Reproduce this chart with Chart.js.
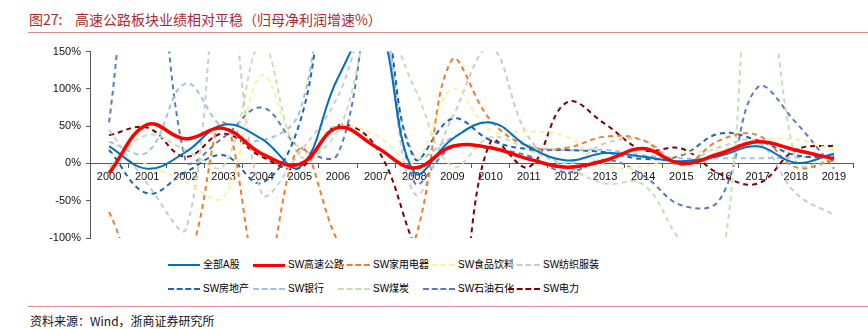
<!DOCTYPE html>
<html>
<head>
<meta charset="utf-8">
<script src="https://cdn.jsdelivr.net/npm/chart.js@4.4.1/dist/chart.umd.min.js"></script>
<style>
  body { margin: 0; background: #fff; }
  #wrap { position: relative; width: 868px; height: 329px; overflow: hidden; font-family: "Liberation Sans", "Noto Sans CJK SC", sans-serif; }
  #title { position: absolute; left: 29px; top: 9px; font-size: 14px; color: #B0282C; font-family: "Noto Sans CJK SC", sans-serif; white-space: pre; }
  .rule { position: absolute; left: 28px; right: 0; height: 1px; background: #DC8C8C; }
  #chart { position: absolute; left: 0; top: 40px; }
  #legend { position: absolute; left: 168px; top: 257px; width: 440px; }
  .item { position: absolute; height: 16px; font-size: 10px; color: #000; line-height: 16px; white-space: nowrap; }
  .item span.ln { display: inline-block; width: 32px; vertical-align: middle; margin-right: 3px; }
  #source { position: absolute; left: 30px; top: 312px; font-size: 12px; color: #111; font-family: "Noto Sans CJK SC", sans-serif; }
</style>
</head>
<body>
<div id="wrap">
  <div id="title">图27:    高速公路板块业绩相对平稳（归母净利润增速%）</div>
  <div class="rule" style="top:32px"></div>
  <canvas id="chart" width="868" height="210"></canvas>
  <div id="legend"></div>
  <div class="rule" style="top:306px"></div>
  <div id="source">资料来源：Wind，浙商证券研究所</div>
</div>
<script>
// 年份
const years = ['2000', '2001', '2002', '2003', '2004', '2005', '2006', '2007', '2008', '2009',
               '2010', '2011', '2012', '2013', '2014', '2015', '2016', '2017', '2018', '2019'];
const yTicks = [-100, -50, 0, 50, 100, 150];

// 归母净利润增速 (%)
const allA      = [23, -7, 15, 52, 33, -5, 115, 190, -12, 33, 55, 22, 4, 14, 9, 3, 10, 23, 1, 13];
const highway   = [-13, 52, 33, 47, 13, -1, 48, 22, -6, 23, 21, 6, -5, 4, 20, 0, 13, 29, 18, 6];
const appliance = [-65, -170, -140, 55, -160, 20, -105, -180, -105, 140, 58, 23, 21, 36, 31, -2, 31, 38, -5, 4];
const food      = [13, -2, -25, -45, 118, 22, 50, 38, 2, 100, 44, 43, 36, -2, -4, 13, 18, 31, 32, 18];
const textile   = [45, -27, -90, 280, -40, 15, 90, 220, -40, 62, 155, 35, 0, 27, 31, 2, 22, 29, -40, -69];
const realty    = [18, -40, -12, 11, -26, 55, 300, 250, 7, 60, 31, 19, 18, 15, 6, 11, 40, 31, 11, 9];
const bank      = [29, 15, 107, 47, 31, 70, 350, 250, 10, 35, 55, 24, 18, 18, 11, 7, 7, 7, 8, 11];
const coal      = [-5, 38, 18, -3, 160, 10, 44, 200, 102, -4, 35, 18, -5, -27, -28, -105, -150, 400, 4, 4];
const petro     = [55, 450, 5, 35, 75, 22, 13, 250, -25, 22, 20, 10, -12, 5, -16, -56, -49, 102, 55, -7];
const power     = [38, 48, 9, 40, 9, -6, 51, 22, -110, -230, 29, -5, 82, 53, 18, 20, -14, -27, 18, 24];

const dash = [5, 4];

function ds(label, data, color, width, dashed) {
    return {
        label: label,
        data: data,
        borderColor: color,
        backgroundColor: color,
        borderWidth: width,
        borderDash: dashed ? dash : [],
        pointRadius: 0,
        tension: 0.4,
        fill: false
    };
}

const datasets = [
    ds('全部A股', allA, '#0070C0', 2, false),
    ds('SW高速公路', highway, '#FF0000', 3.5, false),
    ds('SW家用电器', appliance, '#ED7D31', 2, true),
    ds('SW食品饮料', food, '#FFF0A0', 2, true),
    ds('SW纺织服装', textile, '#CBCBCB', 2, true),
    ds('SW房地产', realty, '#1F64B0', 2, true),
    ds('SW银行', bank, '#9DC3E6', 2, true),
    ds('SW煤炭', coal, '#C5E0B4', 2, true),
    ds('SW石油石化', petro, '#5B7BBD', 2, true),
    ds('SW电力', power, '#7F0000', 2, true)
];
datasets[1].order = -1; // 高速公路画在最上面

const ctx = document.getElementById('chart').getContext('2d');
const tickFont = { family: '"Liberation Sans", Arial, sans-serif', size: 11 };

const myChart = new Chart(ctx, {
    type: 'line',
    data: { labels: years, datasets: datasets },
    options: {
        responsive: false,
        animation: false,
        devicePixelRatio: 1,
        layout: { padding: { left: 0, right: 15, top: 11, bottom: 12 } },
        plugins: { legend: { display: false }, tooltip: { enabled: false } },
        scales: {
            x: {
                position: { y: 0 },
                offset: true,
                grid: { offset: true, drawOnChartArea: false, drawTicks: true, tickLength: 4, color: '#595959' },
                border: { color: '#595959', width: 1 },
                ticks: { font: tickFont, color: '#111', padding: 3, maxRotation: 0, autoSkip: false },
                afterFit: function (s) { s.height = 0; }
            },
            y: {
                min: -100,
                max: 150,
                afterBuildTicks: function (s) { s.ticks = yTicks.map(v => ({ value: v })); },
                grid: { drawOnChartArea: false, drawTicks: true, tickLength: 4, color: '#595959' },
                border: { color: '#595959', width: 1 },
                ticks: { font: tickFont, color: '#111', padding: 5, callback: v => v + '%' },
                afterFit: function (s) { s.width = 90; }
            }
        }
    }
});

// 图例 (两行，每行五个)
const legend = document.getElementById('legend');
datasets.forEach(function (d, i) {
    const item = document.createElement('div');
    item.className = 'item';
    item.style.left = (i % 5) * 85 + 'px';
    item.style.top = Math.floor(i / 5) * 24 + 'px';
    const ln = document.createElement('span');
    ln.className = 'ln';
    const w = d.borderWidth;
    ln.style.borderTop = w + 'px ' + (d.borderDash.length ? 'dashed ' : 'solid ') + d.borderColor;
    item.appendChild(ln);
    item.appendChild(document.createTextNode(d.label));
    legend.appendChild(item);
});
</script>
</body>
</html>
